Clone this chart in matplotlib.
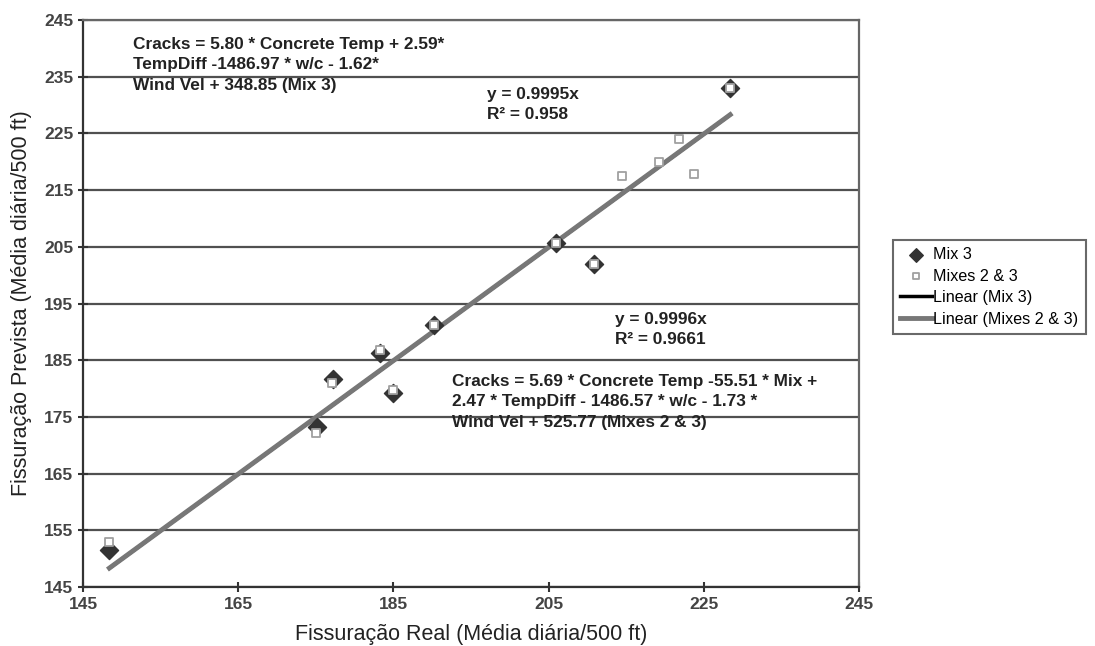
import numpy as np
import matplotlib.pyplot as plt

plt.rcParams['font.family'] = ['Liberation Sans', 'DejaVu Sans']

# Mix 3 observations (real vs predicted cracking)
mix3_real = [148.4, 175.2, 177.2, 183.3, 184.9, 190.2, 205.9, 210.9, 228.4]
mix3_pred = [151.5, 173.3, 181.7, 186.3, 179.2, 191.2, 205.7, 202.0, 233.0]

# Mixes 2 & 3 observations
mix23_real = [148.4, 175.0, 177.1, 183.3, 184.9, 190.2, 205.9, 210.9,
              214.5, 219.2, 221.8, 223.7, 228.4]
mix23_pred = [152.9, 172.2, 180.9, 186.8, 179.7, 191.2, 205.7, 202.0,
              217.5, 220.0, 224.0, 217.8, 233.0]

slope_mix3 = 0.9995
slope_mix23 = 0.9996

fig = plt.figure(figsize=(10.95, 6.46), dpi=100)
ax = fig.add_axes([0.0758, 0.0913, 0.7087, 0.8777])

ax.set_xlim(145, 245)
ax.set_ylim(145, 245)
ax.set_xticks(np.arange(145, 246, 20))
ax.set_yticks(np.arange(145, 246, 10))
ax.yaxis.grid(True, color='#505050', linewidth=1.6)
ax.set_axisbelow(True)

for side in ['left', 'bottom']:
    ax.spines[side].set_color('#333333')
    ax.spines[side].set_linewidth(1.6)
for side in ['top', 'right']:
    ax.spines[side].set_color('#666666')
    ax.spines[side].set_linewidth(1.6)
ax.tick_params(direction='inout', length=7, width=1.5, color='#333333',
               labelsize=12.5, labelcolor='#444444')
for lab in ax.get_xticklabels() + ax.get_yticklabels():
    lab.set_fontweight('bold')

# trend lines through origin
xr = np.array([min(mix3_real), max(mix3_real)])
ax.plot(xr, slope_mix3 * xr, color='black', linewidth=2.5, label='Linear (Mix 3)', zorder=2)
xr2 = np.array([min(mix23_real), max(mix23_real)])
ax.plot(xr2, slope_mix23 * xr2, color='#777777', linewidth=3.5,
        label='Linear (Mixes 2 & 3)', zorder=3)

ax.scatter(mix3_real, mix3_pred, marker='D', s=85, color='#333333',
           edgecolors='#333333', label='Mix 3', zorder=4)
ax.scatter(mix23_real, mix23_pred, marker='s', s=32, facecolors='white',
           edgecolors='#a0a0a0', linewidths=1.3, label='Mixes 2 & 3', zorder=5)

ax.set_xlabel('Fissuração Real (Média diária/500 ft)', fontsize=15.5, color='#222222', labelpad=9)
ax.set_ylabel('Fissuração Prevista (Média diária/500 ft)', fontsize=15.5, color='#222222', labelpad=9)

tkw = dict(fontsize=12.4, fontweight='bold', color='#222222', va='top', linespacing=1.45)
ax.text(151.5, 242.0, 'Cracks = 5.80 * Concrete Temp + 2.59*\n'
        'TempDiff -1486.97 * w/c - 1.62*\nWind Vel + 348.85 (Mix 3)', **tkw)
ax.text(197.1, 233.2, 'y = 0.9995x\nR² = 0.958', **tkw)
ax.text(213.5, 193.5, 'y = 0.9996x\nR² = 0.9661', **tkw)
ax.text(192.6, 182.6, 'Cracks = 5.69 * Concrete Temp -55.51 * Mix +\n'
        '2.47 * TempDiff - 1486.57 * w/c - 1.73 *\nWind Vel + 525.77 (Mixes 2 & 3)', **tkw)

handles, labels = ax.get_legend_handles_labels()
order = [labels.index(n) for n in ['Mix 3', 'Mixes 2 & 3', 'Linear (Mix 3)', 'Linear (Mixes 2 & 3)']]
leg = fig.legend([handles[i] for i in order], [labels[i] for i in order],
                 loc='upper left', bbox_to_anchor=(0.8155, 0.6285),
                 frameon=True, fancybox=False, fontsize=11.6, handlelength=2.0,
                 handletextpad=0.05, borderpad=0.45, labelspacing=0.4,
                 markerscale=0.75, borderaxespad=0)
leg.get_frame().set_edgecolor('#444444')
leg.get_frame().set_linewidth(1.5)

fig.savefig('out.png', dpi=100)
